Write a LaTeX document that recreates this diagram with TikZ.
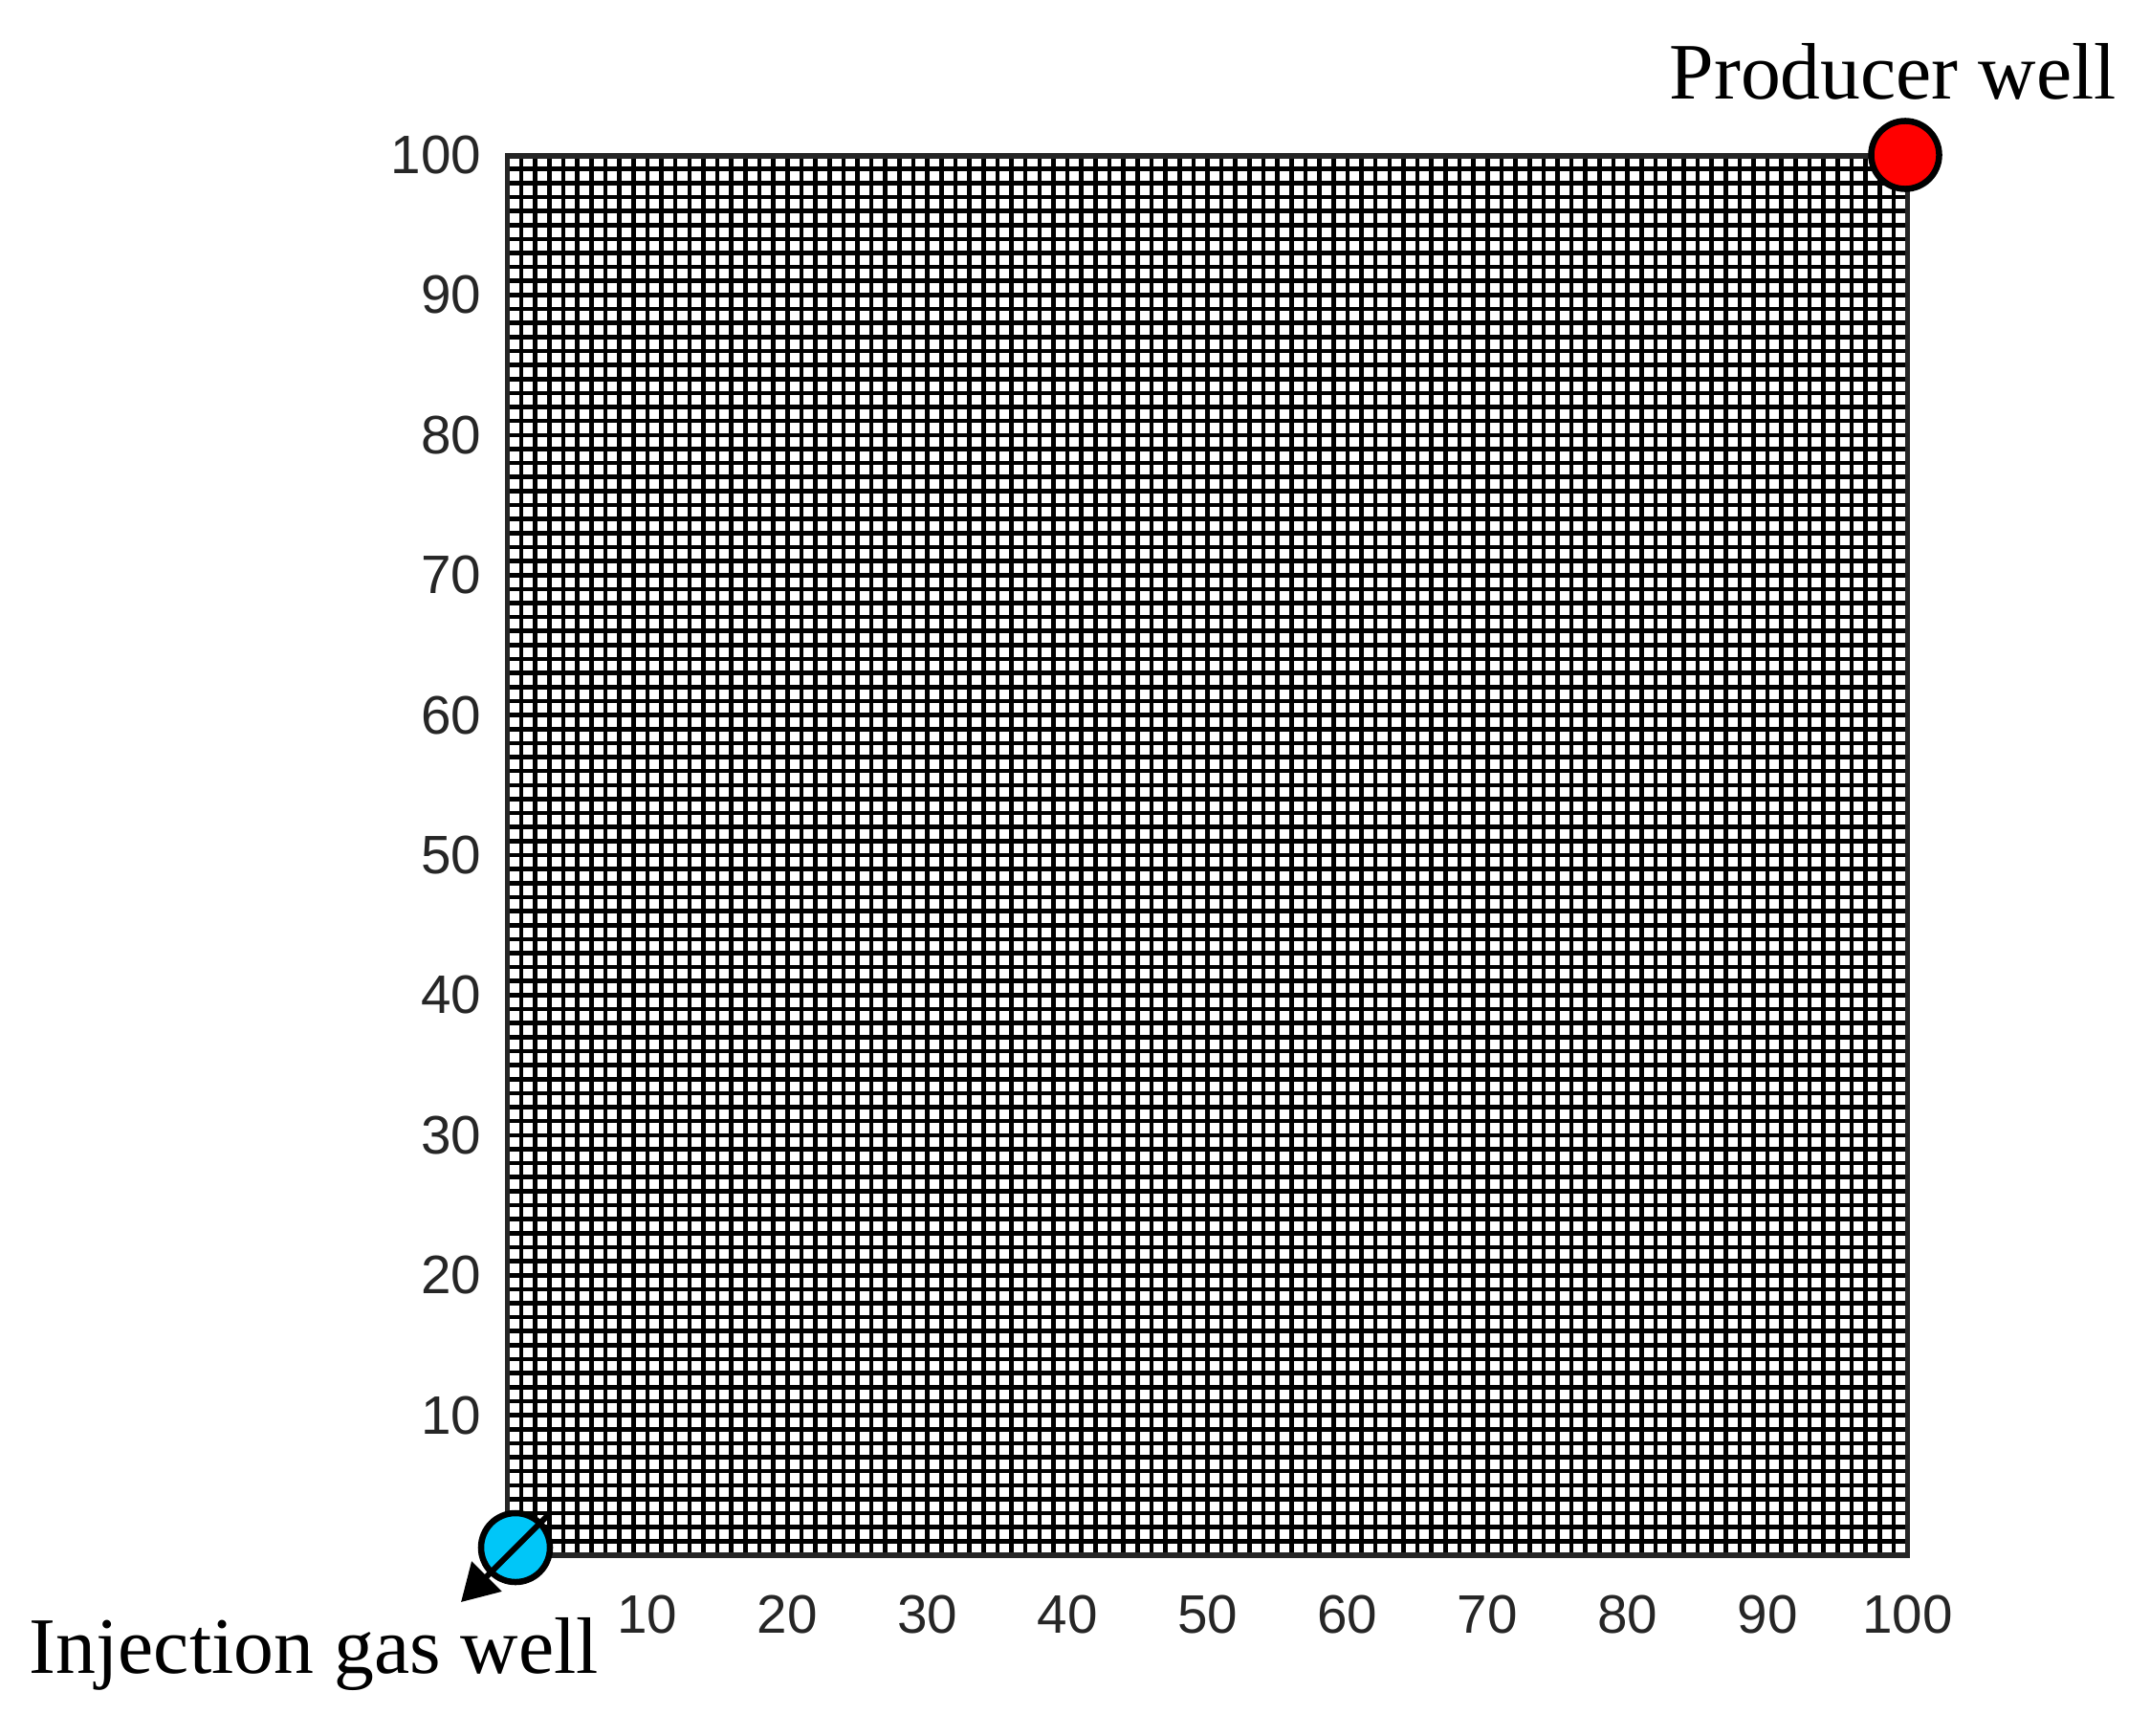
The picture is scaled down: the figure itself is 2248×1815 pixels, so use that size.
\documentclass[tikz,border=0pt]{standalone}
\usepackage{fontspec}
\setmainfont{Liberation Serif}
\newfontfamily\labelfont{Liberation Sans}
\usetikzlibrary{arrows.meta}
\definecolor{wellred}{RGB}{255,0,0}
\definecolor{wellblue}{RGB}{0,198,248}
\definecolor{tickgray}{RGB}{38,38,38}
\begin{document}
\begin{tikzpicture}[x=0.01cm,y=-0.01cm,
  gridline/.style={line width=0.046cm, black},
  frameline/.style={line width=0.055cm, tickgray},
  ticklabel/.style={font=\labelfont\fontsize{16.1pt}{18pt}\selectfont, text=tickgray, inner sep=0},
  welllabel/.style={inner sep=0},
  well/.style={circle, draw=black, line width=0.065cm, inner sep=0, minimum size=0.71cm}]
\useasboundingbox (0,0) rectangle (2248,1815);
\def\gx{530.5}
\def\gy{1626}
\def\gs{14.64}
\foreach \i in {1,...,99} {
  \draw[gridline] ({\gx+\i*\gs},163) -- ({\gx+\i*\gs},1626);
  \draw[gridline] (530.5,{\gy-\i*\gs}) -- (1994.5,{\gy-\i*\gs});
}
\draw[frameline] (530.5,163) rectangle (1994.5,1626);
\foreach \k [evaluate=\k as \v using int(\k*10)] in {1,...,10} {
  \node[ticklabel, anchor=east] (yl\k) at (504, {\gy-\k*146.4}) {\v};
  \node[ticklabel] (xl\k) at ({\gx+\k*146.4}, 1688) {\v};
}
\node[well, fill=wellred] (producer) at (1992,162) {};
\node[welllabel, anchor=base west, font=\fontsize{23.8pt}{28pt}\selectfont] (producerlabel) at (1745,103) {Producer well};
\node[well, fill=wellblue, minimum size=0.72cm] (injector) at (539,1618) {};
\coordinate (injtail) at (573,1584);
\coordinate (injtip) at (482,1675);
\draw[line width=0.06cm, -{Triangle[length=0.38cm, width=0.43cm]}] (injtail) -- (injtip);
\node[welllabel, anchor=base west, font=\fontsize{23.8pt}{28pt}\selectfont] (injlabel) at (30,1749) {Injection gas well};
\end{tikzpicture}
\end{document}
